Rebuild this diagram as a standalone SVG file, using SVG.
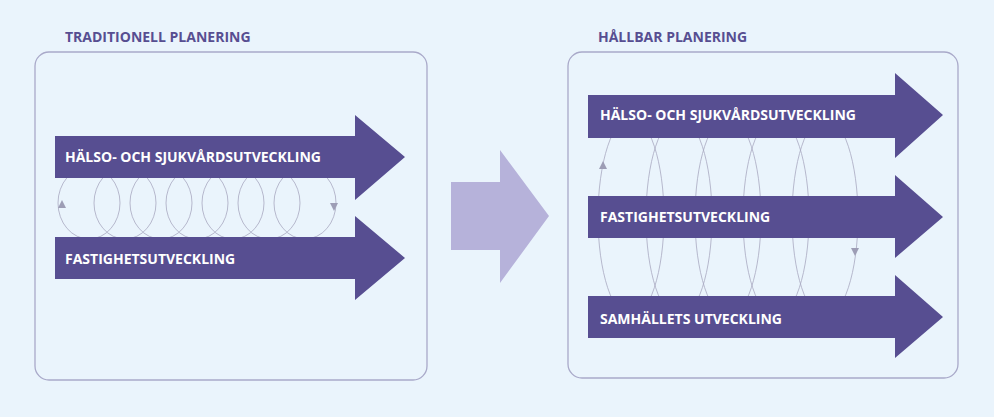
<svg xmlns="http://www.w3.org/2000/svg" width="994" height="417" viewBox="0 0 994 417">
<style>
.panel{fill:#eaf4fc;stroke:#a9a9c9;stroke-width:1.3}
.arr{fill:#574e91}
.lbl{font-family:"Open Sans","Liberation Sans",sans-serif;font-weight:bold;font-size:14px;fill:#fff}
.ttl{font-family:"Open Sans","Liberation Sans",sans-serif;font-weight:bold;font-size:14px;fill:#574e91}
.loop{fill:none;stroke:#a8a8c0;stroke-width:0.8}
.tri{fill:#9d9db5}
</style>
<rect width="994" height="417" fill="#eaf4fc"/>
<g id="left-panel">
<rect class="panel" x="35" y="52" width="392" height="328" rx="14"/>
<text class="ttl" x="65" y="42">TRADITIONELL PLANERING</text>
</g>
<g id="right-panel">
<rect class="panel" x="568" y="52" width="390" height="326" rx="14"/>
<text class="ttl" x="598" y="42">HÅLLBAR PLANERING</text>
</g>
<g id="connectors">
<g id="left-loops">
<ellipse class="loop" cx="89" cy="203" rx="31" ry="36"/>
<ellipse class="loop" cx="125" cy="203" rx="31" ry="36"/>
<ellipse class="loop" cx="161" cy="203" rx="31" ry="36"/>
<ellipse class="loop" cx="197" cy="203" rx="31" ry="36"/>
<ellipse class="loop" cx="233" cy="203" rx="31" ry="36"/>
<ellipse class="loop" cx="269" cy="203" rx="31" ry="36"/>
<ellipse class="loop" cx="305" cy="203" rx="31" ry="36"/>
<polygon class="tri" points="58,208 66,208 62,200"/>
<polygon class="tri" points="330,203 338,203 334,211"/>
</g>
<g id="right-loops">
<ellipse class="loop" cx="631" cy="217" rx="33" ry="100"/>
<ellipse class="loop" cx="679" cy="217" rx="33" ry="100"/>
<ellipse class="loop" cx="728" cy="217" rx="33" ry="100"/>
<ellipse class="loop" cx="776" cy="217" rx="33" ry="100"/>
<ellipse class="loop" cx="825" cy="217" rx="33" ry="100"/>
<polygon class="tri" points="599,169 607,169 603,161"/>
<polygon class="tri" points="851,248 859,248 855,256"/>
</g>
</g>
<g id="left-arrow-1">
<polygon class="arr" points="55,136 355,136 355,115 405,157 355,200 355,178 55,178"/>
<text class="lbl" x="65" y="162">HÄLSO- OCH SJUKVÅRDSUTVECKLING</text>
</g>
<g id="left-arrow-2">
<polygon class="arr" points="55,237 355,237 355,216 405,258 355,300 355,279 55,279"/>
<text class="lbl" x="65" y="264">FASTIGHETSUTVECKLING</text>
</g>
<g id="transition-arrow">
<polygon fill="#b6b2da" points="451,182 500,182 500,150 549,216 500,283 500,250 451,250"/>
</g>
<g id="right-arrow-1">
<polygon class="arr" points="588,95 895,95 895,73 943,115 895,158 895,138 588,138"/>
<text class="lbl" x="600" y="120">HÄLSO- OCH SJUKVÅRDSUTVECKLING</text>
</g>
<g id="right-arrow-2">
<polygon class="arr" points="588,196 895,196 895,175 943,217 895,258 895,238 588,238"/>
<text class="lbl" x="600" y="222">FASTIGHETSUTVECKLING</text>
</g>
<g id="right-arrow-3">
<polygon class="arr" points="588,296 895,296 895,275 943,317 895,358 895,338 588,338"/>
<text class="lbl" x="600" y="324">SAMHÄLLETS UTVECKLING</text>
</g>
</svg>
